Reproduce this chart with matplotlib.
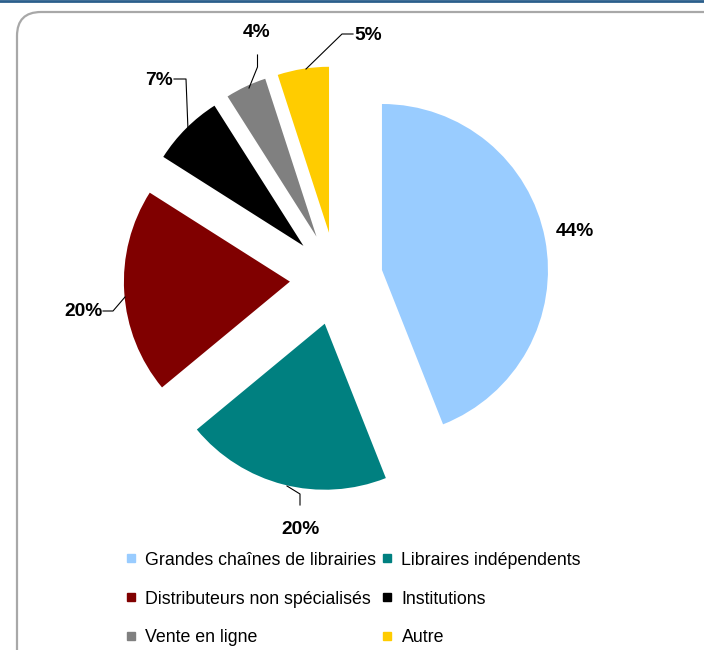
import matplotlib
matplotlib.use("Agg")
import matplotlib.pyplot as plt
from matplotlib import font_manager
from matplotlib.lines import Line2D
from matplotlib.patches import FancyBboxPatch
from matplotlib.transforms import IdentityTransform

# Sales channel shares (%)
channels = ["Grandes chaînes de librairies", "Libraires indépendents",
            "Distributeurs non spécialisés", "Institutions",
            "Vente en ligne", "Autre"]
shares = [44, 20, 20, 7, 4, 5]
colors = ["#99CCFF", "#008080", "#800000", "#000000", "#808080", "#FFCC00"]

available = {f.name for f in font_manager.fontManager.ttflist}
narrow = "Liberation Sans Narrow" in available
font = "Liberation Sans Narrow" if narrow else "Liberation Sans"
plt.rcParams["font.family"] = [font, "DejaVu Sans"]
legend_fs = 15 if narrow else 12.8
label_fs = 15.5 if narrow else 13.8

W, H = 704, 650
fig = plt.figure(figsize=(W / 100, H / 100), dpi=100)

# pie centre and radius in pixels
cx, cy, R = 336.3, 278.7, 166.0


def pix(px, py):
    """pixel position (from top-left) -> data coords"""
    return (px - cx) / R, (cy - py) / R


ax = fig.add_axes([0, 0, 1, 1])
ax.pie(shares, colors=colors, explode=[0.28] * len(shares), startangle=90,
       counterclock=False, radius=1, wedgeprops=dict(linewidth=0))
ax.set_xlim(-cx / R, (W - cx) / R)
ax.set_ylim((cy - H) / R, cy / R)
ax.axis("off")

# percentage labels: text baseline position and leader line points
label_pos = [(575, 236), (300, 534), (83, 316), (159, 85), (257, 37), (368, 40)]
leaders = [
    None,
    [(287, 486), (300, 494), (300, 505)],
    [(125, 297), (113, 311), (103, 311)],
    [(188, 130), (186, 79), (174, 79)],
    [(249, 88), (257.5, 67), (257.5, 55)],
    [(306, 69), (342, 34), (353, 34)],
]
for val, (px, py), pts in zip(shares, label_pos, leaders):
    x, y = pix(px, py)
    ax.text(x, y, f"{val}%", ha="center", va="baseline", fontsize=label_fs,
            fontweight="bold", color="black")
    if pts:
        xs, ys = zip(*[pix(*p) for p in pts])
        ax.plot(xs, ys, color="black", lw=0.8)

# legend, filled column-wise so rows read pairwise
order = [0, 2, 4, 1, 3, 5]
handles = [Line2D([], [], marker="s", ls="", color=colors[i], markersize=6.2)
           for i in order]
fig.legend(handles, [channels[i] for i in order], ncol=2, frameon=False,
           loc="upper left", bbox_to_anchor=(0.176, 0.1512),
           borderpad=0, borderaxespad=0, handlelength=0.8, handletextpad=0.4,
           columnspacing=0.22, labelspacing=1.23, fontsize=legend_fs)

# rounded chart frame and top rule
frame = FancyBboxPatch((17, -40), 760, H - 12 + 40,
                       boxstyle="round,pad=0,rounding_size=24",
                       transform=IdentityTransform(), facecolor="none",
                       edgecolor="#a8a8a8", lw=1.6)
fig.patches.append(frame)
fig.add_artist(Line2D([0, 1], [0.998, 0.998], transform=fig.transFigure,
                      color="#2b5f8c", lw=2))

fig.savefig("out.png", dpi=100)
